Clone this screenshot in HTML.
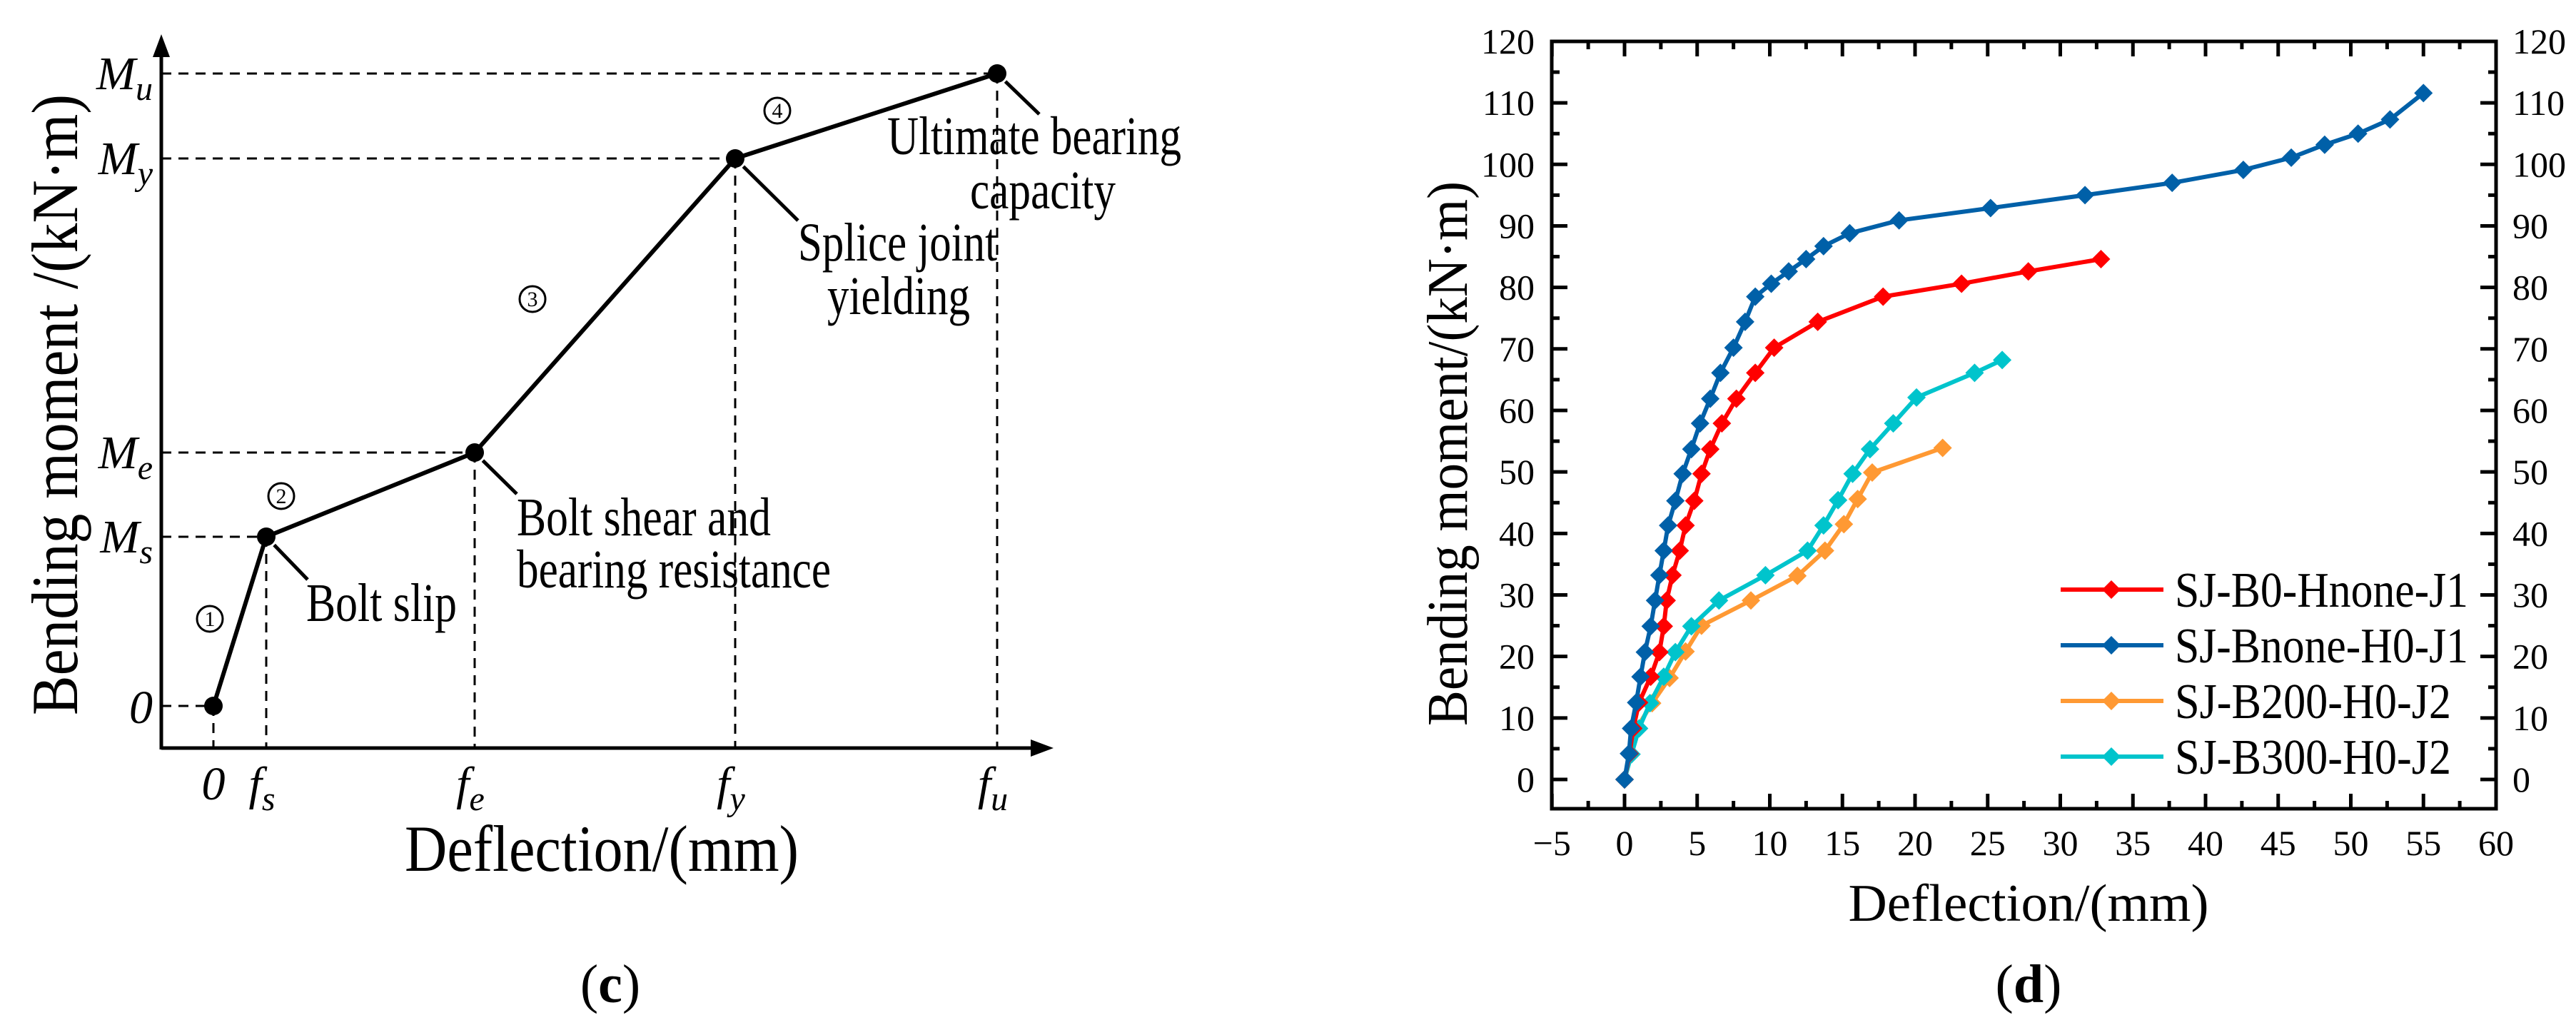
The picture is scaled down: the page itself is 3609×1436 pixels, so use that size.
<!DOCTYPE html>
<html><head><meta charset="utf-8"><style>
html,body{margin:0;padding:0;background:#fff;}
svg{display:block;font-family:"Liberation Serif","DejaVu Serif",serif;}
</style></head><body>
<svg id="fig" width="3609" height="1436" viewBox="0 0 3609 1436" xmlns="http://www.w3.org/2000/svg">
<g id="left"></g>
<g id="right"></g>
<text x="855" y="1404" font-size="76" text-anchor="middle">(<tspan font-weight="bold">c</tspan>)</text>
<text x="2842" y="1404" font-size="76" text-anchor="middle">(<tspan font-weight="bold">d</tspan>)</text>
</svg>
<script>
// ---------- Left schematic data ----------
const keyNames = ["0","s","e","y","u"];
const keyX = [0, 7.4, 36.6, 73.1, 109.8];
const keyY = [0, 23.7, 35.5, 76.7, 88.6];
const stageLabels = ["1","2","3","4"];

// ---------- Right chart data ----------
const xTicks = [-5,0,5,10,15,20,25,30,35,40,45,50,55,60];
const yTicks = [0,10,20,30,40,50,60,70,80,90,100,110,120];
const seriesNames = ["SJ-B0-Hnone-J1","SJ-Bnone-H0-J1","SJ-B200-H0-J2","SJ-B300-H0-J2"];
const seriesColors = ["#ff0000","#0060a8","#ff9933","#00c4cc"];
const redX = [0,0.35,0.6,1.0,1.8,2.4,2.7,2.9,3.3,3.8,4.2,4.8,5.3,5.9,6.7,7.7,9.0,10.3,13.3,17.8,23.2,27.8,32.8];
const redY = [0,4.2,8.3,12.5,16.7,20.7,24.9,29.1,33.2,37.2,41.3,45.3,49.7,53.7,57.9,61.9,66.1,70.2,74.4,78.5,80.6,82.6,84.6];
const blueX = [0,0.3,0.45,0.8,1.1,1.4,1.8,2.1,2.4,2.7,3.0,3.5,4.0,4.6,5.2,5.9,6.6,7.5,8.3,9.0,10.1,11.3,12.5,13.7,15.5,18.9,25.2,31.7,37.7,42.6,45.9,48.2,50.5,52.7,55.0];
const blueY = [0,4.2,8.3,12.5,16.7,20.7,24.9,29.1,33.2,37.2,41.3,45.3,49.7,53.7,57.9,61.9,66.1,70.2,74.4,78.5,80.6,82.6,84.6,86.7,88.8,90.9,92.9,95.0,97.0,99.1,101.1,103.2,105.0,107.3,111.6];
const orangeX = [0,0.35,0.8,1.9,3.1,4.2,5.3,8.7,11.9,13.8,15.1,16.05,17.05,21.9];
const orangeY = [0,4.2,8.2,12.4,16.5,20.8,25.0,29.1,33.1,37.2,41.5,45.6,49.9,53.9];
const cyanX = [0,0.48,1.0,1.75,2.7,3.5,4.6,6.5,9.7,12.6,13.7,14.7,15.7,16.9,18.5,20.1,24.1,26.0];
const cyanY = [0,4.1,8.3,12.4,16.7,20.7,24.9,29.1,33.2,37.2,41.3,45.4,49.7,53.7,57.9,62.1,66.1,68.2];
const seriesX = [redX, blueX, orangeX, cyanX];
const seriesY = [redY, blueY, orangeY, cyanY];

const NS = "http://www.w3.org/2000/svg";
function mk(tag, attrs, parent){ const e=document.createElementNS(NS,tag); for(const k in attrs) e.setAttribute(k,attrs[k]); parent.appendChild(e); return e; }

// ================= LEFT =================
const L = document.getElementById('left');
const lx = v => 299 + v*10;
const ly = v => 989 - v*10;
const axL = 226, axB = 1048;
let e;
e = mk('line',{x1:axL,y1:axB,x2:1450,y2:axB,stroke:'#000','stroke-width':5},L);


e = mk('polygon',{points:`1476,${axB} 1444,${axB-12} 1444,${axB+12}`,fill:'#000'},L);


e = mk('line',{x1:axL,y1:axB+2,x2:axL,y2:75,stroke:'#000','stroke-width':5},L);


e = mk('polygon',{points:`${axL},48 ${axL-12},80 ${axL+12},80`,fill:'#000'},L);


for(let i=0;i<keyX.length;i++){
  const px=lx(keyX[i]), py=ly(keyY[i]);
  e = mk('line',{x1:axL,y1:py,x2:px,y2:py,stroke:'#000','stroke-width':3,'stroke-dasharray':'14 10'},L);
  
  
  e = mk('line',{x1:px,y1:py,x2:px,y2:axB,stroke:'#000','stroke-width':3,'stroke-dasharray':'14 10'},L);
  
  
}
e = mk('polyline',{points:keyX.map((v,i)=>lx(v)+','+ly(keyY[i])).join(' '),fill:'none',stroke:'#000','stroke-width':6},L);


for(let i=0;i<keyX.length;i++){
  e = mk('circle',{cx:lx(keyX[i]),cy:ly(keyY[i]),r:13,fill:'#000'},L);
  
  
  const t = mk('text',{x:214,y:ly(keyY[i])+22,'font-size':66,'font-style':'italic','text-anchor':'end'},L);
  
  
  if(i===0){ t.textContent='0'; t.setAttribute('y',ly(keyY[i])+24);} else { t.innerHTML='M<tspan font-size="48" dy="15">'+keyNames[i]+'</tspan>'; }
  const tx = mk('text',{x:lx(keyX[i])-(i===0?0:6),y:1120,'font-size':66,'font-style':'italic','text-anchor':'middle'},L);
  
  
  if(i===0){ tx.textContent='0'; } else { tx.innerHTML='f<tspan font-size="48" dy="15">'+keyNames[i]+'</tspan>'; }
}
const leaders = [[1,431,812],[2,724,692],[3,1118,309],[4,1456,160]];
leaders.forEach(([i,x2,y2])=>{
  const px=lx(keyX[i]), py=ly(keyY[i]);
  const d=Math.hypot(x2-px,y2-py);
  e = mk('line',{x1:px+(x2-px)*16/d,y1:py+(y2-py)*16/d,x2:x2,y2:y2,stroke:'#000','stroke-width':5},L);
  
  
});
const ann = [["Bolt slip",429,870,211],["Bolt shear and",724,750,356],["bearing resistance",724,823,440],["Splice joint",1118,365,279],["yielding",1159,440,200],["Ultimate bearing",1243,216,412],["capacity",1359,292,204]];
ann.forEach(([s,x,y,w])=>{
  const t=mk('text',{x:x,y:y,'font-size':76,textLength:w,lengthAdjust:'spacingAndGlyphs'},L);
  t.textContent=s;
  
  
});
const stagePos = [[294,867],[394,695],[746,419],[1089,155]];
stageLabels.forEach((s,i)=>{
  e = mk('circle',{cx:stagePos[i][0],cy:stagePos[i][1],r:18,fill:'none',stroke:'#000','stroke-width':3},L);
  
  
  const t=mk('text',{x:stagePos[i][0],y:stagePos[i][1]+10,'font-size':30,'text-anchor':'middle'},L);
  t.textContent=s;
  
  
});
e = mk('text',{x:567,y:1220,'font-size':92,textLength:552,lengthAdjust:'spacingAndGlyphs'},L);
e.textContent='Deflection/(mm)';


e = mk('text',{x:0,y:0,'font-size':92,textLength:870,lengthAdjust:'spacingAndGlyphs',transform:'translate(108,1002) rotate(-90)'},L);
e.textContent='Bending moment /(kN·m)';



// ================= RIGHT =================
const R = document.getElementById('right');
const X0=2174, X1=3497, Y0=58, Y1=1133;
const rx = v => 2276 + v*20.35;
const ry = v => 1092 - v*8.617;
e = mk('rect',{x:X0,y:Y0,width:X1-X0,height:Y1-Y0,fill:'none',stroke:'#000','stroke-width':5},R);


xTicks.forEach((v,i)=>{
  const px=rx(v);
  e = mk('line',{x1:px,y1:Y1,x2:px,y2:Y1-21,stroke:'#000','stroke-width':5},R);
  
  
  e = mk('line',{x1:px,y1:Y0,x2:px,y2:Y0+21,stroke:'#000','stroke-width':5},R);
  
  
  if(i<xTicks.length-1){
    const m=rx(v+2.5);
    e = mk('line',{x1:m,y1:Y1,x2:m,y2:Y1-11,stroke:'#000','stroke-width':5},R);
    
    
    e = mk('line',{x1:m,y1:Y0,x2:m,y2:Y0+11,stroke:'#000','stroke-width':5},R);
    
    
  }
  const t=mk('text',{x:px,y:1198,'font-size':50,'text-anchor':'middle'},R);
  t.textContent = v<0 ? '\u2212'+Math.abs(v) : String(v);
  
  
});
yTicks.forEach((v,i)=>{
  const py=ry(v);
  e = mk('line',{x1:X0,y1:py,x2:X0+22,y2:py,stroke:'#000','stroke-width':5},R);
  
  
  e = mk('line',{x1:X1,y1:py,x2:X1-22,y2:py,stroke:'#000','stroke-width':5},R);
  
  
  if(i<yTicks.length-1){
    const m=ry(v+5);
    e = mk('line',{x1:X0,y1:m,x2:X0+11,y2:m,stroke:'#000','stroke-width':5},R);
    
    
    e = mk('line',{x1:X1,y1:m,x2:X1-11,y2:m,stroke:'#000','stroke-width':5},R);
    
    
  }
  let t=mk('text',{x:2150,y:py+17,'font-size':50,'text-anchor':'end'},R);
  t.textContent=String(v);
  
  
  t=mk('text',{x:3520,y:py+17,'font-size':50},R);
  t.textContent=String(v);
  
  
});
function diamond(cx,cy,r){ return `${cx},${cy-r} ${cx+r},${cy} ${cx},${cy+r} ${cx-r},${cy}`; }
[2,3,0,1].forEach(s=>{
  const g=mk('g',{},R);
  
  
  const pl=mk('polyline',{points:seriesX[s].map((v,i)=>rx(v)+','+ry(seriesY[s][i])).join(' '),fill:'none',stroke:seriesColors[s],'stroke-width':6,'stroke-linejoin':'round'},g);
  
  
  seriesX[s].forEach((v,i)=>{
    const p=mk('polygon',{points:diamond(rx(v),ry(seriesY[s][i]),13),fill:seriesColors[s]},g);
    
    
  });
});
const legY=[826,904,982,1060];
seriesNames.forEach((n,i)=>{
  const g=mk('g',{},R);
  
  
  mk('line',{x1:2887,y1:legY[i],x2:3031,y2:legY[i],stroke:seriesColors[i],'stroke-width':6},g);
  mk('polygon',{points:diamond(2958,legY[i],13),fill:seriesColors[i]},g);
  const t=mk('text',{x:3047,y:legY[i]+24,'font-size':70,textLength:(i<2?411:387),lengthAdjust:'spacingAndGlyphs'},g);
  t.textContent=n;
});
e = mk('text',{x:2842,y:1290,'font-size':74,'text-anchor':'middle',textLength:505,lengthAdjust:'spacingAndGlyphs'},R);
e.textContent='Deflection/(mm)';


e = mk('text',{x:0,y:0,'font-size':80,textLength:763,lengthAdjust:'spacingAndGlyphs',transform:'translate(2055,1017) rotate(-90)'},R);
e.textContent='Bending moment/(kN·m)';


</script>
</body></html>
